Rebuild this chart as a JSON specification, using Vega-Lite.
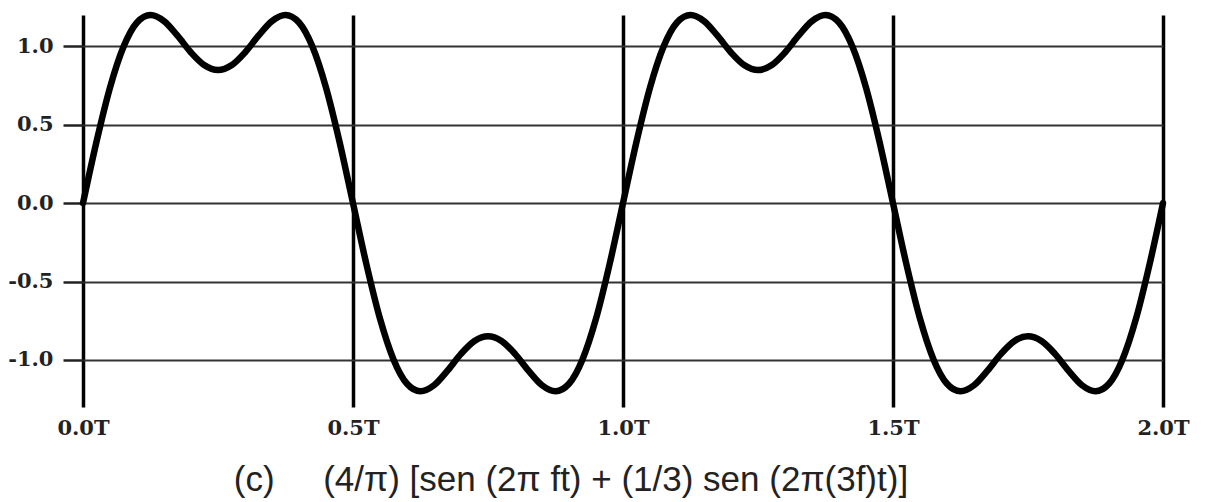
{
  "$schema": "https://vega.github.io/schema/vega-lite/v6.json",
  "autosize": {"type": "none"},
  "padding": {"left": 83, "top": 15, "right": 47, "bottom": 95},
  "width": 1080,
  "height": 392,
  "background": "white",
  "config": {"view": {"stroke": null}},
  "title": {
    "text": "(c)\u00a0\u00a0\u00a0\u00a0\u00a0(4/π) [sen (2π ft) + (1/3) sen (2π(3f)t)]",
    "orient": "bottom",
    "anchor": "start",
    "dx": 226,
    "offset": 25,
    "font": "Liberation Sans",
    "fontSize": 35,
    "fontWeight": "normal",
    "color": "#222"
  },
  "data": {
    "values": [
      {"t": 0.0, "v": 0}, {"t": 0.025, "v": 0.392}, {"t": 0.05, "v": 0.737}, {"t": 0.075, "v": 0.997},
      {"t": 0.1, "v": 1.152}, {"t": 0.125, "v": 1.2}, {"t": 0.15, "v": 1.161}, {"t": 0.175, "v": 1.068},
      {"t": 0.2, "v": 0.961}, {"t": 0.225, "v": 0.879}, {"t": 0.25, "v": 0.849}, {"t": 0.275, "v": 0.879},
      {"t": 0.3, "v": 0.961}, {"t": 0.325, "v": 1.068}, {"t": 0.35, "v": 1.161}, {"t": 0.375, "v": 1.2},
      {"t": 0.4, "v": 1.152}, {"t": 0.425, "v": 0.997}, {"t": 0.45, "v": 0.737}, {"t": 0.475, "v": 0.392},
      {"t": 0.5, "v": 0}, {"t": 0.525, "v": -0.392}, {"t": 0.55, "v": -0.737}, {"t": 0.575, "v": -0.997},
      {"t": 0.6, "v": -1.152}, {"t": 0.625, "v": -1.2}, {"t": 0.65, "v": -1.161}, {"t": 0.675, "v": -1.068},
      {"t": 0.7, "v": -0.961}, {"t": 0.725, "v": -0.879}, {"t": 0.75, "v": -0.849}, {"t": 0.775, "v": -0.879},
      {"t": 0.8, "v": -0.961}, {"t": 0.825, "v": -1.068}, {"t": 0.85, "v": -1.161}, {"t": 0.875, "v": -1.2},
      {"t": 0.9, "v": -1.152}, {"t": 0.925, "v": -0.997}, {"t": 0.95, "v": -0.737}, {"t": 0.975, "v": -0.392},
      {"t": 1.0, "v": 0}, {"t": 1.025, "v": 0.392}, {"t": 1.05, "v": 0.737}, {"t": 1.075, "v": 0.997},
      {"t": 1.1, "v": 1.152}, {"t": 1.125, "v": 1.2}, {"t": 1.15, "v": 1.161}, {"t": 1.175, "v": 1.068},
      {"t": 1.2, "v": 0.961}, {"t": 1.225, "v": 0.879}, {"t": 1.25, "v": 0.849}, {"t": 1.275, "v": 0.879},
      {"t": 1.3, "v": 0.961}, {"t": 1.325, "v": 1.068}, {"t": 1.35, "v": 1.161}, {"t": 1.375, "v": 1.2},
      {"t": 1.4, "v": 1.152}, {"t": 1.425, "v": 0.997}, {"t": 1.45, "v": 0.737}, {"t": 1.475, "v": 0.392},
      {"t": 1.5, "v": 0}, {"t": 1.525, "v": -0.392}, {"t": 1.55, "v": -0.737}, {"t": 1.575, "v": -0.997},
      {"t": 1.6, "v": -1.152}, {"t": 1.625, "v": -1.2}, {"t": 1.65, "v": -1.161}, {"t": 1.675, "v": -1.068},
      {"t": 1.7, "v": -0.961}, {"t": 1.725, "v": -0.879}, {"t": 1.75, "v": -0.849}, {"t": 1.775, "v": -0.879},
      {"t": 1.8, "v": -0.961}, {"t": 1.825, "v": -1.068}, {"t": 1.85, "v": -1.161}, {"t": 1.875, "v": -1.2},
      {"t": 1.9, "v": -1.152}, {"t": 1.925, "v": -0.997}, {"t": 1.95, "v": -0.737}, {"t": 1.975, "v": -0.392},
      {"t": 2.0, "v": 0}
    ]
  },
  "mark": {"type": "line", "color": "black", "strokeWidth": 6.5, "interpolate": "monotone", "strokeJoin": "round", "strokeCap": "round"},
  "encoding": {
    "x": {
      "field": "t", "type": "quantitative",
      "scale": {"domain": [0, 2], "nice": false, "zero": false},
      "axis": {
        "title": null, "values": [0, 0.5, 1, 1.5, 2], "domain": false, "ticks": false,
        "grid": true, "gridColor": "black", "gridWidth": 3.5, "gridOpacity": 1,
        "labelExpr": "format(datum.value, '.1f') + 'T'",
        "labelFont": "DejaVu Serif", "labelFontWeight": "bold", "labelFontSize": 21,
        "labelColor": "#222", "labelPadding": 10, "labelFlush": false
      }
    },
    "y": {
      "field": "v", "type": "quantitative",
      "scale": {"domain": [-1.3, 1.2], "nice": false, "zero": false},
      "axis": {
        "title": null, "values": [-1, -0.5, 0, 0.5, 1], "domain": false,
        "labelExpr": "datum.value < 0 ? '-' + format(-datum.value, '.1f') : format(datum.value, '.1f')",
        "ticks": true, "tickSize": 20, "tickColor": "#222", "tickWidth": 2.5,
        "grid": true, "gridColor": "#333", "gridWidth": 2, "gridOpacity": 1,
        "labelFont": "DejaVu Serif", "labelFontWeight": "bold", "labelFontSize": 21,
        "labelColor": "#222", "labelPadding": 10
      }
    }
  }
}
